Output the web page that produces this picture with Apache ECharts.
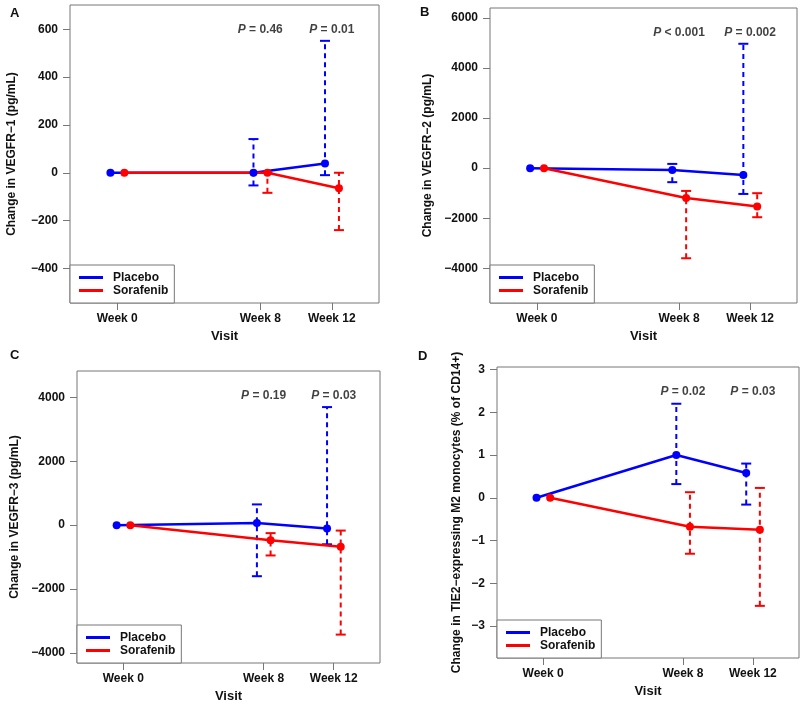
<!DOCTYPE html>
<html>
<head>
<meta charset="utf-8">
<script src="https://cdn.jsdelivr.net/npm/echarts@6/dist/echarts.min.js"></script>
<style>html,body{margin:0;padding:0;background:#fff}#c{width:800px;height:704px}</style>
</head>
<body>
<div id="c"></div>
<script>
// ---------- data ----------
const weeks = [0, 8, 12];
const weekLabels = ['Week 0', 'Week 8', 'Week 12'];
const seriesNames = ['Placebo', 'Sorafenib'];

// Panel A: VEGFR-1
const aPlacebo = [0, 0, 39];
const aPlaceboLow = [null, -53, -10];
const aPlaceboHigh = [null, 141, 552];
const aSorafenib = [0, 0, -65];
const aSorafenibLow = [null, -84, -240];
const aSorafenibHigh = [null, 0, 0];
const aPvalues = ['= 0.46', '= 0.01'];
const aTicks = [-400, -200, 0, 200, 400, 600];

// Panel B: VEGFR-2
const bPlacebo = [0, -70, -270];
const bPlaceboLow = [null, -560, -1030];
const bPlaceboHigh = [null, 170, 4970];
const bSorafenib = [0, -1190, -1530];
const bSorafenibLow = [null, -3600, -1960];
const bSorafenibHigh = [null, -910, -1000];
const bPvalues = ['< 0.001', '= 0.002'];
const bTicks = [-4000, -2000, 0, 2000, 4000, 6000];

// Panel C: VEGFR-3
const cPlacebo = [0, 70, -105];
const cPlaceboLow = [null, -1600, -600];
const cPlaceboHigh = [null, 650, 3700];
const cSorafenib = [0, -470, -680];
const cSorafenibLow = [null, -950, -3430];
const cSorafenibHigh = [null, -250, -170];
const cPvalues = ['= 0.19', '= 0.03'];
const cTicks = [-4000, -2000, 0, 2000, 4000];

// Panel D: TIE2-expressing M2 monocytes
const dPlacebo = [0, 1.0, 0.58];
const dPlaceboLow = [null, 0.32, -0.16];
const dPlaceboHigh = [null, 2.2, 0.8];
const dSorafenib = [0, -0.68, -0.75];
const dSorafenibLow = [null, -1.31, -2.53];
const dSorafenibHigh = [null, 0.13, 0.23];
const dPvalues = ['= 0.02', '= 0.03'];
const dTicks = [-3, -2, -1, 0, 1, 2, 3];

const pWeeks = [8, 12];

// ---------- layout / style ----------
const FONT = 'Liberation Sans, Arial, sans-serif';
const BLUE = '#0000ff', RED = '#ff0000', BOX = '#777777', TXT = '#111111';
const SHIFT = { Placebo: -0.38, Sorafenib: 0.4 };
const COLORS = { Placebo: BLUE, Sorafenib: RED };
const XMIN = -2.64, XMAX = 14.64;

const panels = [
  { letter: 'A', letterPos: [10, 7], grid: { left: 70, top: 5, width: 309, height: 298 }, ymin: -545, ymax: 702, nameGap: 52,
    title: 'Change in VEGFR\u22121 (pg/mL)', ticks: aTicks, p: aPvalues,
    pl: [aPlacebo, aPlaceboLow, aPlaceboHigh], so: [aSorafenib, aSorafenibLow, aSorafenibHigh] },
  { letter: 'B', letterPos: [420, 6], grid: { left: 490, top: 8, width: 307, height: 295 }, ymin: -5388, ymax: 6400, nameGap: 56,
    title: 'Change in VEGFR\u22122 (pg/mL)', ticks: bTicks, p: bPvalues,
    pl: [bPlacebo, bPlaceboLow, bPlaceboHigh], so: [bSorafenib, bSorafenibLow, bSorafenibHigh] },
  { letter: 'C', letterPos: [10, 349], grid: { left: 77, top: 371, width: 303, height: 292 }, ymin: -4320, ymax: 4831, nameGap: 56,
    title: 'Change in VEGFR\u22123 (pg/mL)', ticks: cTicks, p: cPvalues,
    pl: [cPlacebo, cPlaceboLow, cPlaceboHigh], so: [cSorafenib, cSorafenibLow, cSorafenibHigh] },
  { letter: 'D', letterPos: [418, 350], grid: { left: 497, top: 367, width: 302, height: 291 }, ymin: -3.75, ymax: 3.06, nameGap: 34,
    title: 'Change in TIE2\u2212expressing M2 monocytes (% of CD14+)', ticks: dTicks, p: dPvalues,
    pl: [dPlacebo, dPlaceboLow, dPlaceboHigh], so: [dSorafenib, dSorafenibLow, dSorafenibHigh] }
];

function fmtNum(v) { return String(v).replace('-', '\u2212'); }

function errRender(color) {
  return function (params, api) {
    const x = api.value(0), lo = api.value(1), hi = api.value(2);
    const a = api.coord([x, lo]), b = api.coord([x, hi]);
    const w = 5;
    return {
      type: 'group',
      children: [
        { type: 'line', shape: { x1: a[0], y1: a[1], x2: b[0], y2: b[1] }, style: { stroke: color, lineWidth: 2, lineDash: [5, 4] } },
        { type: 'line', shape: { x1: a[0] - w, y1: a[1], x2: a[0] + w, y2: a[1] }, style: { stroke: color, lineWidth: 2 } },
        { type: 'line', shape: { x1: b[0] - w, y1: b[1], x2: b[0] + w, y2: b[1] }, style: { stroke: color, lineWidth: 2 } }
      ]
    };
  };
}

const option = {
  animation: false,
  backgroundColor: '#ffffff',
  color: [BLUE, RED],
  textStyle: { fontFamily: FONT },
  grid: [], xAxis: [], yAxis: [], legend: [], series: [], graphic: []
};

panels.forEach((pn, i) => {
  const g = pn.grid;
  option.grid.push(Object.assign({ show: true, borderColor: BOX, borderWidth: 1, containLabel: false }, g));
  option.xAxis.push({
    gridIndex: i, type: 'value', min: XMIN, max: XMAX, position: 'bottom',
    name: 'Visit', nameLocation: 'middle', nameGap: 27,
    nameTextStyle: { fontFamily: FONT, fontWeight: 'bold', fontSize: 13, color: TXT },
    axisLine: { show: false, onZero: false }, splitLine: { show: false },
    axisTick: { show: true, length: 7, lineStyle: { color: BOX, width: 1 }, customValues: weeks },
    axisLabel: { show: true, margin: 10, fontFamily: FONT, fontWeight: 'bold', fontSize: 12, color: TXT,
      customValues: weeks, formatter: v => weekLabels[weeks.indexOf(v)] }
  });
  option.yAxis.push({
    gridIndex: i, type: 'value', min: pn.ymin, max: pn.ymax, position: 'left',
    name: pn.title, nameLocation: 'middle', nameGap: pn.nameGap, nameRotate: 90,
    nameTextStyle: { fontFamily: FONT, fontWeight: 'bold', fontSize: 12, color: TXT },
    axisLine: { show: false, onZero: false }, splitLine: { show: false },
    axisTick: { show: true, length: 7, lineStyle: { color: BOX, width: 1 }, customValues: pn.ticks },
    axisLabel: { show: true, margin: 12, fontFamily: FONT, fontWeight: 'bold', fontSize: 12, color: TXT,
      customValues: pn.ticks, formatter: fmtNum }
  });
  option.legend.push({
    orient: 'vertical', left: g.left, bottom: 704 - (g.top + g.height),
    data: seriesNames.map(n => ({ name: n, itemStyle: { color: COLORS[n] } })),
    icon: 'rect', itemWidth: 24, itemHeight: 3, itemGap: 0,
    padding: [6, 6, 6, 9], borderColor: BOX, borderWidth: 1, backgroundColor: '#fff',
    selectedMode: false,
    textStyle: { fontFamily: FONT, fontWeight: 'bold', fontSize: 12, lineHeight: 13, color: TXT, padding: [0, 0, 0, 5] }
  });
  [['Placebo', pn.pl], ['Sorafenib', pn.so]].forEach(([name, arr]) => {
    const color = COLORS[name];
    const [vals, lows, highs] = arr;
    const errData = [];
    weeks.forEach((w, k) => { if (lows[k] != null) errData.push([w + SHIFT[name], lows[k], highs[k]]); });
    option.series.push({
      type: 'custom', name: name, xAxisIndex: i, yAxisIndex: i, z: 2, itemStyle: { color: color },
      renderItem: errRender(color), data: errData, encode: { x: 0, y: [1, 2] }, silent: true
    });
    option.series.push({
      type: 'line', name: name, xAxisIndex: i, yAxisIndex: i, z: 3,
      data: weeks.map((w, k) => [w + SHIFT[name], vals[k]]),
      symbol: 'circle', symbolSize: 8, showSymbol: true,
      lineStyle: { color: color, width: 2.5 }, itemStyle: { color: color }, silent: true
    });
  });
  option.series.push({
    type: 'scatter', name: 'pvals', xAxisIndex: i, yAxisIndex: i, z: 4, clip: false, silent: true,
    symbolSize: 0.1, itemStyle: { color: 'rgba(0,0,0,0)' },
    data: pWeeks.map((w, k) => ({ name: pn.p[k], value: [w, pn.ymax] })),
    label: {
      show: true, position: 'inside', offset: [0, 25],
      formatter: p => '{i|P} ' + p.name,
      fontFamily: FONT, fontWeight: 'bold', fontSize: 12, color: TXT,
      rich: { i: { fontFamily: FONT, fontWeight: 'bold', fontStyle: 'italic', fontSize: 12, color: TXT } }
    }
  });
  option.graphic.push({
    type: 'text', left: pn.letterPos[0], top: pn.letterPos[1],
    style: { text: pn.letter, fontFamily: FONT, fontWeight: 'bold', fontSize: 13, fill: TXT }
  });
});

const chart = echarts.init(document.getElementById('c'), null, { renderer: 'canvas' });
chart.setOption(option);
</script>
</body>
</html>
